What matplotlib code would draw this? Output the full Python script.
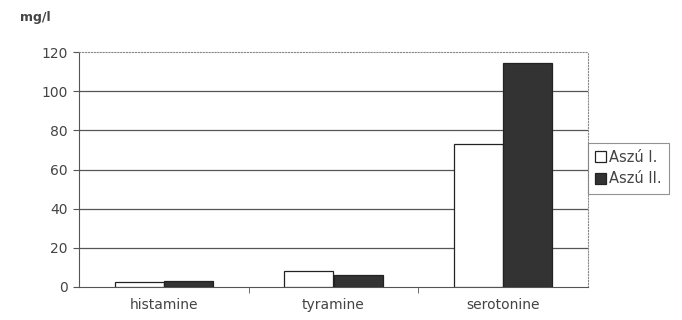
import numpy as np
import matplotlib.pyplot as plt

# data
categories = ["histamine", "tyramine", "serotonine"]
aszu_1 = [2.4, 8.3, 73.0]
aszu_2 = [2.9, 6.3, 114.5]
series_names = ["Aszú I.", "Aszú II."]
y_ticks = [0, 20, 40, 60, 80, 100, 120]

TXT = "#444444"

fig = plt.figure(figsize=(6.82, 3.2), dpi=100)
ax = fig.add_axes([79 / 682, 1 - 287 / 320, (588 - 79) / 682, (287 - 52) / 320])

x = np.arange(len(categories))
w = 0.29
ax.bar(x - w / 2, aszu_1, width=w, color="white", edgecolor="#222222",
       linewidth=0.9, label=series_names[0], zorder=3)
ax.bar(x + w / 2, aszu_2, width=w, color="#333333", edgecolor="#222222",
       linewidth=0.9, label=series_names[1], zorder=3)

ax.set_xlim(-0.5, len(categories) - 0.5)
ax.set_ylim(0, 120)
ax.set_yticks(y_ticks)
ax.set_yticklabels([str(t) for t in y_ticks], color=TXT, fontsize=10)
ax.set_xticks(x)
ax.set_xticklabels(categories, color=TXT, fontsize=10)
ax.tick_params(axis="x", length=0, pad=8)
ax.tick_params(axis="y", length=4, color="#555555", pad=4)
ax.set_xticks([0.5, 1.5], minor=True)
ax.tick_params(axis="x", which="minor", length=4, color="#555555")

for t in y_ticks[1:-1]:
    ax.axhline(t, color="#555555", linewidth=0.9, zorder=1)

ax.spines["left"].set_color("#555555")
ax.spines["bottom"].set_color("#555555")
for s in ("top", "right"):
    ax.spines[s].set_color("#888888")
    ax.spines[s].set_linestyle(":")

fig.text(20 / 682, 1 - 18 / 320, "mg/l", color=TXT, fontsize=9,
         fontweight="bold", va="center", ha="left")

leg = ax.legend(loc="center left", bbox_to_anchor=(1.0, 0.506),
                frameon=True, fancybox=False, fontsize=10.5,
                handlelength=0.75, handleheight=0.75, handletextpad=0.2,
                borderpad=0.5, labelspacing=0.45, borderaxespad=0.0)
leg.get_frame().set_edgecolor("#777777")
leg.get_frame().set_linewidth(0.8)
for t in leg.get_texts():
    t.set_color(TXT)

fig.savefig("out.png", dpi=100)
